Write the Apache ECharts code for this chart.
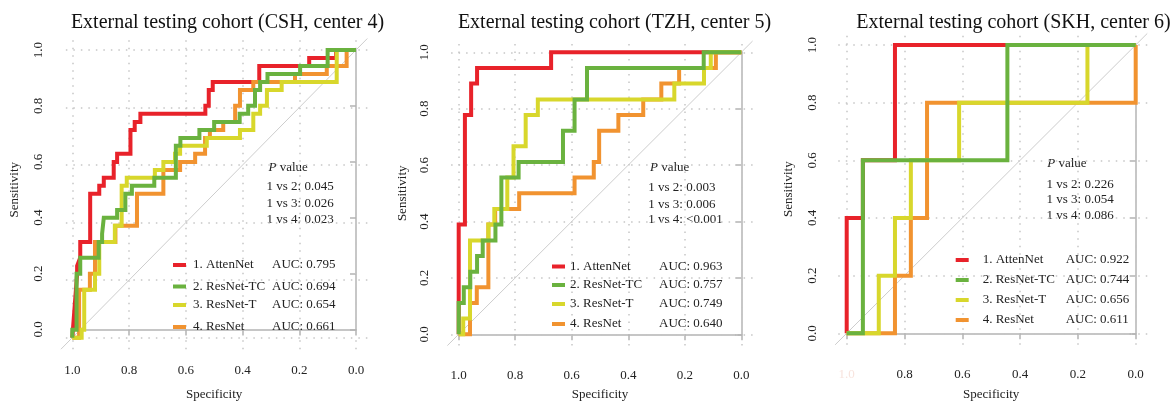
<!DOCTYPE html>
<html>
<head>
<meta charset="utf-8">
<script src="https://cdn.jsdelivr.net/npm/echarts@6/dist/echarts.min.js"></script>
<style>
html, body { margin: 0; padding: 0; background: #fff; }
#chart { width: 1176px; height: 406px; }
</style>
</head>
<body>
<div id="chart"></div>
<script>
'use strict';

///// data /////

const models = ['1. AttenNet', '2. ResNet-TC', '3. ResNet-T', '4. ResNet'];
const colors = ['#E8222A', '#6AB23F', '#D8D72C', '#F19330'];
const ticks = [0, 0.2, 0.4, 0.6, 0.8, 1.0];

const titles = [
	'External testing cohort (CSH, center 4)',
	'External testing cohort (TZH, center 5)',
	'External testing cohort (SKH, center 6)'
];

const aucCSH = ['0.795', '0.694', '0.654', '0.661'];
const aucTZH = ['0.963', '0.757', '0.749', '0.640'];
const aucSKH = ['0.922', '0.744', '0.656', '0.611'];

const pCSH = ['0.045', '0.026', '0.023'];
const pTZH = ['0.003', '0.006', '<0.001'];
const pSKH = ['0.226', '0.054', '0.086'];

// [specificity, sensitivity]
const cshAttenNet = [[1,0],[0.983,0.222],[0.983,0.25],[0.972,0.278],[0.972,0.333],[0.937,0.333],[0.937,0.5],[0.905,0.5],[0.905,0.528],[0.889,0.528],[0.889,0.556],[0.854,0.556],[0.854,0.611],[0.842,0.611],[0.842,0.639],[0.795,0.639],[0.795,0.722],[0.78,0.722],[0.78,0.75],[0.76,0.75],[0.76,0.778],[0.531,0.778],[0.531,0.806],[0.519,0.806],[0.519,0.861],[0.505,0.861],[0.505,0.889],[0.341,0.889],[0.341,0.944],[0.165,0.944],[0.165,0.972],[0.07,0.972],[0.07,1],[0,1]];
const cshResNetTC = [[1,0],[1,0.028],[0.985,0.028],[0.985,0.222],[0.972,0.222],[0.972,0.278],[0.907,0.278],[0.907,0.333],[0.895,0.333],[0.895,0.361],[0.889,0.361],[0.889,0.417],[0.842,0.417],[0.842,0.444],[0.813,0.444],[0.813,0.5],[0.79,0.5],[0.79,0.528],[0.711,0.528],[0.711,0.556],[0.635,0.556],[0.635,0.667],[0.619,0.667],[0.619,0.694],[0.552,0.694],[0.552,0.722],[0.5,0.722],[0.5,0.75],[0.41,0.75],[0.41,0.778],[0.38,0.778],[0.38,0.806],[0.356,0.806],[0.356,0.861],[0.338,0.861],[0.338,0.889],[0.312,0.889],[0.312,0.917],[0.197,0.917],[0.197,0.944],[0.1,0.944],[0.1,1],[0,1]];
const cshResNetT = [[1,0],[0.967,0],[0.967,0.028],[0.958,0.028],[0.958,0.167],[0.92,0.167],[0.92,0.222],[0.905,0.222],[0.905,0.333],[0.85,0.333],[0.85,0.389],[0.826,0.389],[0.826,0.528],[0.808,0.528],[0.808,0.556],[0.709,0.556],[0.709,0.583],[0.679,0.583],[0.679,0.611],[0.638,0.611],[0.638,0.639],[0.62,0.639],[0.62,0.667],[0.526,0.667],[0.526,0.694],[0.409,0.694],[0.409,0.722],[0.362,0.722],[0.362,0.778],[0.338,0.778],[0.338,0.806],[0.314,0.806],[0.314,0.861],[0.262,0.861],[0.262,0.889],[0.068,0.889],[0.068,1],[0,1]];
const cshResNet = [[1,0],[0.976,0],[0.976,0.167],[0.938,0.167],[0.938,0.222],[0.92,0.222],[0.92,0.333],[0.848,0.333],[0.848,0.389],[0.772,0.389],[0.772,0.5],[0.679,0.5],[0.679,0.583],[0.62,0.583],[0.62,0.611],[0.567,0.611],[0.567,0.639],[0.532,0.639],[0.532,0.694],[0.515,0.694],[0.515,0.722],[0.468,0.722],[0.468,0.75],[0.426,0.75],[0.426,0.806],[0.409,0.806],[0.409,0.861],[0.362,0.861],[0.362,0.889],[0.215,0.889],[0.215,0.917],[0.103,0.917],[0.103,0.944],[0.033,0.944],[0.033,1],[0,1]];

const tzhAttenNet = [[1,0],[1,0.389],[0.978,0.389],[0.978,0.778],[0.956,0.778],[0.956,0.889],[0.935,0.889],[0.935,0.944],[0.673,0.944],[0.673,1],[0,1]];
const tzhResNetTC = [[1,0],[1,0.111],[0.982,0.111],[0.982,0.167],[0.959,0.167],[0.959,0.222],[0.935,0.222],[0.935,0.278],[0.915,0.278],[0.915,0.333],[0.87,0.333],[0.87,0.389],[0.849,0.389],[0.849,0.556],[0.788,0.556],[0.788,0.611],[0.631,0.611],[0.631,0.722],[0.59,0.722],[0.59,0.833],[0.546,0.833],[0.546,0.944],[0.133,0.944],[0.133,1],[0,1]];
const tzhResNetT = [[1,0],[0.984,0],[0.984,0.056],[0.96,0.056],[0.96,0.333],[0.895,0.333],[0.895,0.389],[0.874,0.389],[0.874,0.444],[0.828,0.444],[0.828,0.556],[0.806,0.556],[0.806,0.667],[0.763,0.667],[0.763,0.778],[0.72,0.778],[0.72,0.833],[0.237,0.833],[0.237,0.889],[0.132,0.889],[0.132,0.944],[0.108,0.944],[0.108,1],[0,1]];
const tzhResNet = [[1,0],[0.96,0],[0.96,0.111],[0.936,0.111],[0.936,0.167],[0.895,0.167],[0.895,0.389],[0.871,0.389],[0.871,0.444],[0.786,0.444],[0.786,0.5],[0.59,0.5],[0.59,0.556],[0.522,0.556],[0.522,0.611],[0.503,0.611],[0.503,0.722],[0.435,0.722],[0.435,0.778],[0.347,0.778],[0.347,0.833],[0.283,0.833],[0.283,0.889],[0.22,0.889],[0.22,0.944],[0.09,0.944],[0.09,1],[0,1]];

const skhAttenNet = [[1,0],[1,0.4],[0.944,0.4],[0.944,0.6],[0.833,0.6],[0.833,1],[0,1]];
const skhResNetTC = [[1,0],[0.944,0],[0.944,0.6],[0.444,0.6],[0.444,1],[0,1]];
const skhResNetT = [[1,0],[0.889,0],[0.889,0.2],[0.833,0.2],[0.833,0.4],[0.778,0.4],[0.778,0.6],[0.611,0.6],[0.611,0.8],[0.167,0.8],[0.167,1],[0,1]];
const skhResNet = [[1,0],[0.833,0],[0.833,0.2],[0.778,0.2],[0.778,0.4],[0.722,0.4],[0.722,0.8],[0,0.8],[0,1]];

///// layout /////

const FONT = 'Liberation Serif';
const PAD = 0.04; // R extends the plot region by 4% on each side

const panels = [
	{
		box: {left: 72.3, top: 50, width: 283.7, height: 287.7},
		titleX: 222.5, xNameGap: 47, yNameGap: 39.5,
		curves: [cshAttenNet, cshResNetTC, cshResNetT, cshResNet], auc: aucCSH, p: pCSH,
		legendLeft: 173, rows: [265, 286.5, 305, 327], nameW: 79, textPad: 2,
		pLeft: 268.5, pY: 169.5, lineLeft: 266.5, lineY: [188.5, 205, 220.7]
	},
	{
		box: {left: 458.7, top: 52.3, width: 282.6, height: 282},
		titleX: 609.5, xNameGap: 42, yNameGap: 38.5,
		curves: [tzhAttenNet, tzhResNetTC, tzhResNetT, tzhResNet], auc: aucTZH, p: pTZH,
		legendLeft: 552, rows: [266.5, 285, 304, 324], nameW: 89, textPad: 0,
		pLeft: 650, pY: 169.3, lineLeft: 648.3, lineY: [189.5, 205.7, 221]
	},
	{
		box: {left: 846.7, top: 45, width: 289, height: 288.3},
		titleX: 1008.5, xNameGap: 43, yNameGap: 40,
		curves: [skhAttenNet, skhResNetTC, skhResNetT, skhResNet], auc: aucSKH, p: pSKH,
		legendLeft: 955.7, rows: [260, 280, 300, 320], nameW: 83, textPad: 9,
		pLeft: 1047.3, pY: 165, lineLeft: 1046.5, lineY: [185.7, 201, 216.7],
		faintFirst: true
	}
];

// draw order: red below, green on top
const drawOrder = [0, 3, 2, 1];

const grid = [];
const xAxis = [];
const yAxis = [];
const series = [];
const legend = [];
const title = [];
const graphic = [];

const axisGray = '#b4b4b4';

panels.forEach((p, k) => {
	const b = p.box;
	const plotIdx = k * 2;
	const axisIdx = k * 2 + 1;

	// plot region (data + grid lines)
	grid.push({
		left: b.left - PAD * b.width,
		top: b.top - PAD * b.height,
		width: b.width * (1 + 2 * PAD),
		height: b.height * (1 + 2 * PAD)
	});
	// axis frame: 0..1 only, axes offset outwards like R
	grid.push({left: b.left, top: b.top, width: b.width, height: b.height});

	xAxis.push({gridIndex: plotIdx, type: 'value', min: -PAD, max: 1 + PAD, inverse: true, show: false});
	yAxis.push({gridIndex: plotIdx, type: 'value', min: -PAD, max: 1 + PAD, show: false});

	xAxis.push({
		gridIndex: axisIdx, type: 'value', min: 0, max: 1, interval: 0.2, inverse: true,
		offset: PAD * b.height,
		axisLine: {show: true, lineStyle: {color: axisGray, width: 1.5}},
		axisTick: {show: true, length: 6, lineStyle: {color: axisGray, width: 1.5}},
		axisLabel: {
			fontFamily: FONT, fontSize: 13, margin: 23,
			color: (v) => (p.faintFirst && Number(v) === 1) ? '#f8e4de' : '#222',
			formatter: (v) => Number(v).toFixed(1)
		},
		splitLine: {show: false},
		name: 'Specificity', nameLocation: 'middle', nameGap: p.xNameGap,
		nameTextStyle: {fontFamily: FONT, fontSize: 13, color: '#222'}
	});
	yAxis.push({
		gridIndex: axisIdx, type: 'value', min: 0, max: 1, interval: 0.2,
		offset: PAD * b.width,
		axisLine: {show: true, lineStyle: {color: axisGray, width: 1.5}},
		axisTick: {show: true, length: 6, lineStyle: {color: axisGray, width: 1.5}},
		axisLabel: {
			fontFamily: FONT, fontSize: 13, margin: 16, rotate: 90, color: '#222',
			formatter: (v) => Number(v).toFixed(1)
		},
		splitLine: {show: false},
		name: 'Sensitivity', nameLocation: 'middle', nameGap: p.yNameGap,
		nameTextStyle: {fontFamily: FONT, fontSize: 13, color: '#222'}
	});

	// chance line + dotted grid (kept under the curves)
	series.push({
		type: 'line', xAxisIndex: plotIdx, yAxisIndex: plotIdx,
		data: [[1 + PAD, -PAD], [-PAD, 1 + PAD]],
		symbol: 'none', silent: true, clip: false, z: 1,
		lineStyle: {color: '#cdcdcd', width: 1},
		markLine: {
			z: 1, silent: true, symbol: 'none', label: {show: false},
			lineStyle: {color: '#c6c6c6', width: 1.5, type: [1.5, 6]},
			emphasis: {disabled: true},
			data: ticks.map(v => ({xAxis: v})).concat(ticks.map(v => ({yAxis: v})))
		}
	});

	drawOrder.forEach(i => {
		series.push({
			name: models[i], type: 'line', xAxisIndex: plotIdx, yAxisIndex: plotIdx,
			data: p.curves[i], symbol: 'none', z: 3, clip: false,
			color: colors[i],
			lineStyle: {color: colors[i], width: 4, join: 'miter', cap: 'butt'},
			emphasis: {disabled: true}
		});
	});

	title.push({
		text: titles[k], left: p.titleX, top: 6, textAlign: 'center',
		textStyle: {fontFamily: FONT, fontSize: 20, fontWeight: 'normal', color: '#111', lineHeight: 24}
	});

	// one legend per row so rows sit where R put them
	models.forEach((m, i) => {
		legend.push({
			left: p.legendLeft, top: p.rows[i] - 8, padding: 0,
			icon: 'rect', itemWidth: 13, itemHeight: 4, selectedMode: false,
			itemStyle: {color: colors[i], borderWidth: 0},
			data: [{name: m, icon: 'rect', itemStyle: {color: colors[i], borderWidth: 0}}],
			formatter: (name) => `{n|${name}}{a|AUC: ${p.auc[i]}}`,
			textStyle: {
				fontFamily: FONT, fontSize: 13, color: '#222', lineHeight: 16,
				rich: {
					n: {width: p.nameW, padding: [0, 0, 0, p.textPad], fontFamily: FONT, fontSize: 13, color: '#222'},
					a: {fontFamily: FONT, fontSize: 13, color: '#222'}
				}
			}
		});
	});

	// P value block
	graphic.push({
		type: 'text', left: p.pLeft, top: p.pY - 8,
		style: {
			text: '{i|P} value', fontFamily: FONT, fontSize: 13, fill: '#222',
			rich: {i: {fontFamily: FONT, fontSize: 13, fontStyle: 'italic', fill: '#222'}}
		}
	});
	p.p.forEach((v, j) => {
		graphic.push({
			type: 'text', left: p.lineLeft, top: p.lineY[j] - 8,
			style: {text: `1 vs ${j + 2}: ${v}`, fontFamily: FONT, fontSize: 13, fill: '#222'}
		});
	});
});

const chart = echarts.init(document.getElementById('chart'), null, {renderer: 'canvas'});
chart.setOption({
	animation: false,
	backgroundColor: '#fff',
	title: title,
	grid: grid,
	xAxis: xAxis,
	yAxis: yAxis,
	legend: legend,
	series: series,
	graphic: graphic
});
</script>
</body>
</html>
